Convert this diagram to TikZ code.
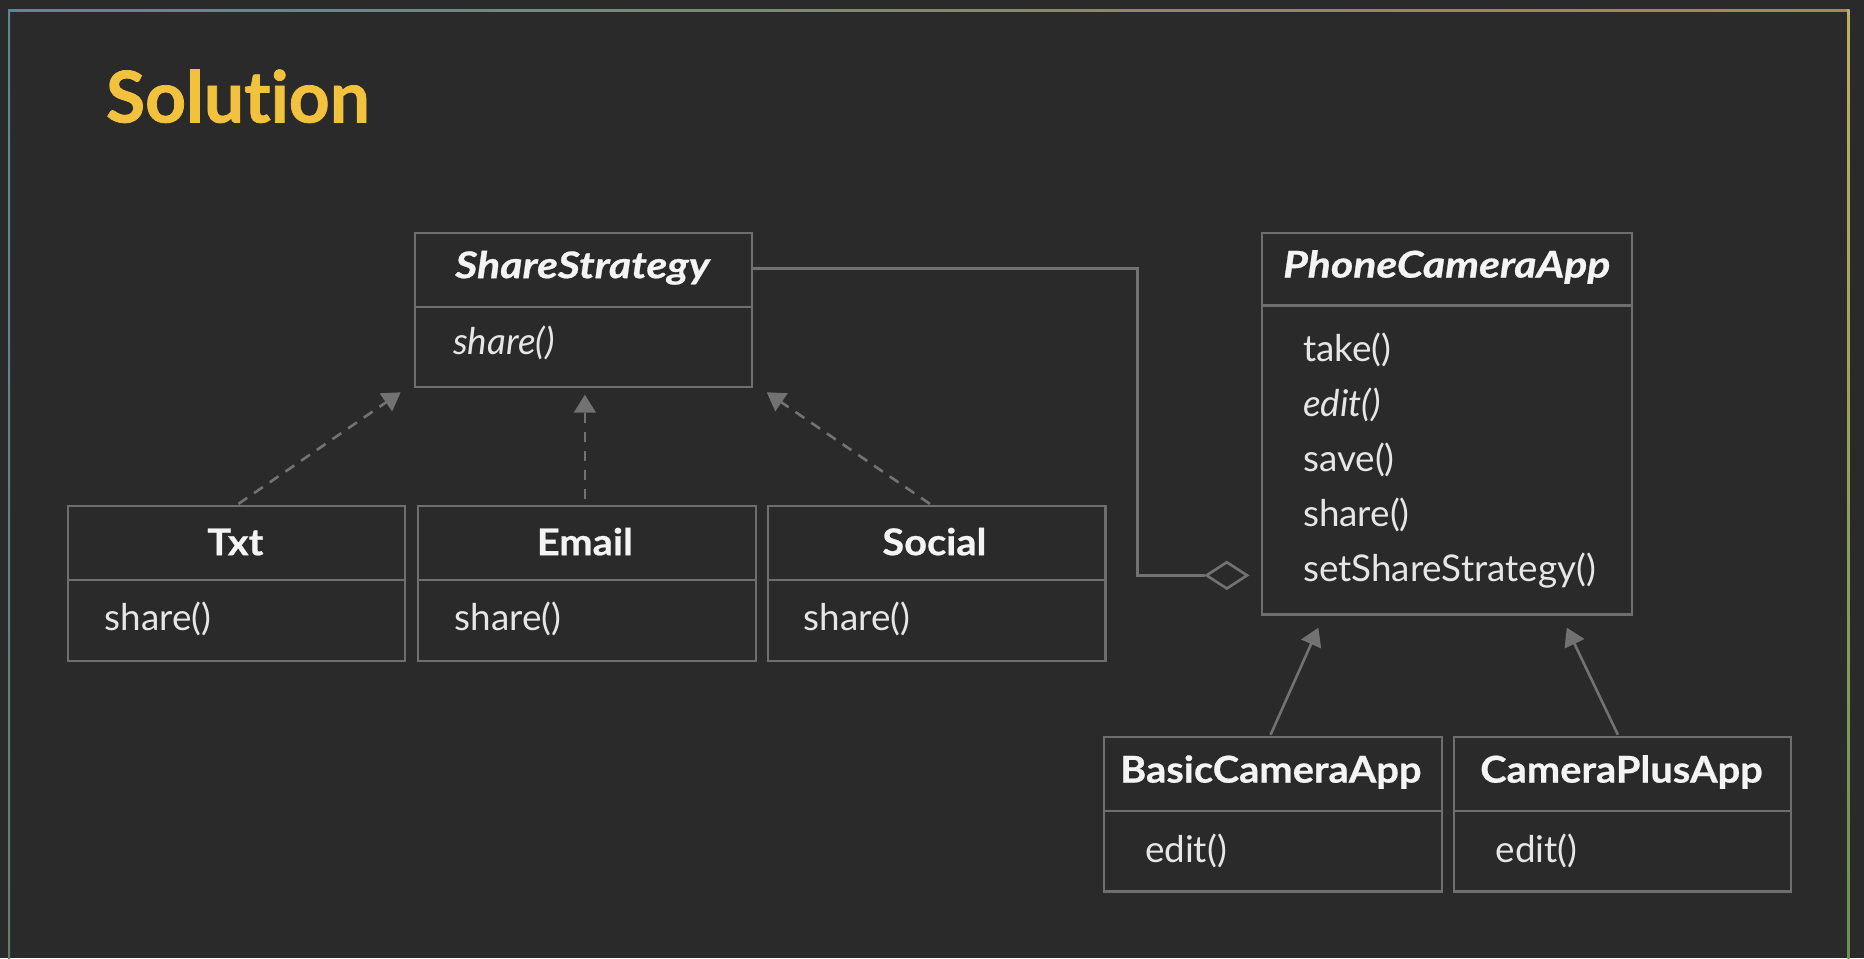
\documentclass[tikz,border=0pt]{standalone}
\usepackage{fontspec}
\setmainfont{Lato}[Ligatures=NoCommon]
\usetikzlibrary{arrows.meta,shapes.geometric}
\definecolor{bg}{HTML}{2A2A2A}
\definecolor{edgec}{HTML}{6E6E6E}
\definecolor{connc}{HTML}{727272}
\definecolor{txtc}{HTML}{F4F4F4}
\definecolor{methc}{HTML}{E6E6E6}
\definecolor{titlec}{HTML}{F2C23E}
\definecolor{frTL}{HTML}{5E8796}
\definecolor{frBL}{HTML}{62806F}
\definecolor{frTR}{HTML}{BDB060}
\definecolor{frTM}{HTML}{A88A48}
\definecolor{frBR}{HTML}{6A9050}
\newcommand{\uptitle}[1]{\scalebox{1.08}[1]{\bfseries\addfontfeature{FakeBold=0.6}#1}}
\newcommand{\ittitle}[1]{\scalebox{1.16}[1]{\bfseries\itshape\addfontfeature{FakeBold=0.6}#1}}
\begin{document}
\begin{tikzpicture}[x=1pt,y=-1pt,
  classbox/.style={draw=edgec,line width=1.8pt,inner sep=0pt,anchor=north west,minimum width=284pt,minimum height=130pt},
  divline/.style={draw=edgec,line width=1.8pt},
  ctitle/.style={anchor=base,inner sep=0pt,text=txtc,font=\fontsize{31}{36}\selectfont},
  meth/.style={anchor=base west,inner sep=0pt,text=methc,font=\fontsize{31}{36}\selectfont},
  conn/.style={draw=connc,line width=2.2pt},
  realize/.style={conn,dash pattern=on 9pt off 7pt,-{Triangle[length=15pt,width=18pt]}},
  inherit/.style={conn,-{Triangle[length=15pt,width=18pt]}},
]
% background
\fill[bg] (0,0) rectangle (1568,806);
\useasboundingbox (0,0) rectangle (1568,806);
% frame
\shade[top color=frTL,bottom color=frBL] (6.8,7.6) rectangle (8.6,806);
\shade[left color=frTL,right color=frTM] (6.8,7.6) rectangle (1555,9.4);
\shade[top color=frTR,bottom color=frBR] (1554,7.6) rectangle (1555.8,806);

% title
\node[anchor=base west,inner sep=0pt,text=titlec,font=\fontsize{60}{70}\selectfont\bfseries] (title) at (89,103) {\addfontfeature{FakeBold=1}Solution};

% ShareStrategy
\node[classbox] (ss) at (348,195) {};
\draw[divline] (348,258) -- (632,258);
\node[ctitle] (sst) at (490,234) {\ittitle{ShareStrategy}};
\node[meth] (ssm) at (381,298.6) {\itshape share()};

% Txt
\node[classbox] (txt) at (56,425) {};
\draw[divline] (56,488) -- (340,488);
\node[ctitle] (txtt) at (198,467) {\uptitle{Txt}};
\node[meth] (txtm) at (88,530) {share()};

% Email
\node[classbox] (email) at (351,425) {};
\draw[divline] (351,488) -- (635,488);
\node[ctitle] (emailt) at (492,467) {\uptitle{Email}};
\node[meth] (emailm) at (382.5,530) {share()};

% Social
\node[classbox] (social) at (645,425) {};
\draw[divline] (645,488) -- (929,488);
\node[ctitle] (socialt) at (786,467) {\uptitle{Social}};
\node[meth] (socialm) at (676,530) {share()};

% PhoneCameraApp
\node[classbox,minimum width=311pt,minimum height=321pt] (pca) at (1061,195) {};
\draw[divline] (1061,257) -- (1372,257);
\node[ctitle] (pcat) at (1217,233.5) {\ittitle{PhoneCameraApp}};
\node[meth] (m1) at (1096,304.2) {take()};
\node[meth] (m2) at (1096,350.4) {\itshape edit()};
\node[meth] (m3) at (1096,396.7) {save()};
\node[meth] (m4) at (1096,443) {share()};
\node[meth] (m5) at (1096,489.2) {setShareStrategy()};

% BasicCameraApp
\node[classbox] (basic) at (928,619) {};
\draw[divline] (928,682) -- (1212,682);
\node[ctitle] (basict) at (1069,658.3) {\uptitle{BasicCameraApp}};
\node[meth] (basicm) at (963,725.8) {edit()};

% CameraPlusApp
\node[classbox] (plus) at (1222,619) {};
\draw[divline] (1222,682) -- (1506,682);
\node[ctitle] (plust) at (1364,658.3) {\uptitle{CameraPlusApp}};
\node[meth] (plusm) at (1258,725.8) {edit()};

% arrow end points
\coordinate (e1) at (337,330);
\coordinate (e2) at (492,332);
\coordinate (e3) at (645,330);
\coordinate (e4) at (1109,528);
\coordinate (e5) at (1318,528);

\draw[realize,shorten <=2pt] (txt.north) -- (e1);
\draw[realize,shorten <=5pt] (email.north -| e2) -- (e2);
\draw[realize,shorten <=2pt] ([xshift=-4pt]social.north) -- (e3);
\draw[inherit,shorten <=1pt] ([xshift=-2.5pt]basic.north) -- (e4);
\draw[inherit,shorten <=1pt] ([xshift=-3.5pt]plus.north) -- (e5);

% aggregation
\node[diamond,draw=connc,line width=2.2pt,inner sep=0pt,minimum width=35pt,minimum height=23pt] (dia) at (1032,484) {};
\draw[conn] (ss.east |- 0,226) -- (957,226) -- (957,484) -- (dia.west);
\end{tikzpicture}
\end{document}
